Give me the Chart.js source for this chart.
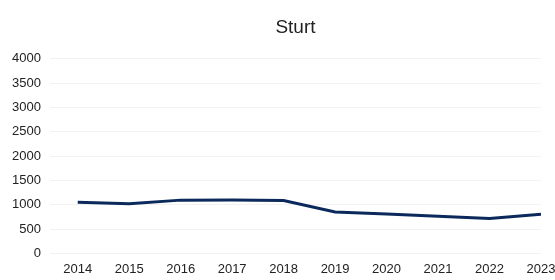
<!DOCTYPE html>
<html>
<head>
<meta charset="utf-8">
<script src="https://cdn.jsdelivr.net/npm/chart.js@4/dist/chart.umd.min.js"></script>
<style>
  html, body { margin: 0; padding: 0; background: #fff; }
  #wrap { width: 555px; height: 280px; }
</style>
</head>
<body>
<div id="wrap"><canvas id="chart"></canvas></div>
<script>
// data
var years = [2014, 2015, 2016, 2017, 2018, 2019, 2020, 2021, 2022, 2023];
var values = [1050, 1020, 1095, 1100, 1085, 850, 810, 765, 715, 805];
var yTicks = [0, 500, 1000, 1500, 2000, 2500, 3000, 3500, 4000];

var points = [];
for (var i = 0; i < years.length; i++) {
    points.push({ x: years[i], y: values[i] });
}

var ctx = document.getElementById("chart").getContext('2d');
new Chart(ctx, {
    type: 'line',
    data: {
        datasets: [{
            label: 'Sturt',
            data: points,
            borderColor: '#0b2a5b',
            borderWidth: 3,
            pointRadius: 0,
            tension: 0,
            fill: false
        }]
    },
    options: {
        responsive: true,
        maintainAspectRatio: false,
        animation: false,
        layout: { padding: { left: 3, right: 0, top: 0, bottom: -5 } },
        plugins: {
            legend: { display: false },
            tooltip: { enabled: false },
            title: {
                display: true,
                text: 'Sturt',
                fullSize: false,
                color: '#222',
                font: { family: 'Liberation Sans, Arial, sans-serif', size: 19, weight: 'normal' },
                padding: { top: 16, bottom: 20 }
            }
        },
        scales: {
            x: {
                type: 'linear',
                min: 2013.46,
                max: 2023,
                afterBuildTicks: function(axis) {
                    axis.ticks = years.map(function(y) { return { value: y }; });
                },
                afterFit: function(axis) {
                    axis.paddingRight = 14;
                },
                grid: { display: false, drawTicks: false },
                border: { display: false },
                ticks: {
                    color: '#222',
                    padding: 8,
                    maxRotation: 0,
                    font: { family: 'Liberation Sans, Arial, sans-serif', size: 13 },
                    callback: function(v) { return String(v); }
                }
            },
            y: {
                min: 0,
                max: 4000,
                afterBuildTicks: function(axis) {
                    axis.ticks = yTicks.map(function(v) { return { value: v }; });
                },
                grid: { color: 'rgba(0,0,0,0.05)', drawTicks: false },
                border: { display: false },
                ticks: {
                    color: '#222',
                    padding: 9,
                    font: { family: 'Liberation Sans, Arial, sans-serif', size: 13 },
                    callback: function(v) { return String(v); }
                }
            }
        }
    }
});
</script>
</body>
</html>
